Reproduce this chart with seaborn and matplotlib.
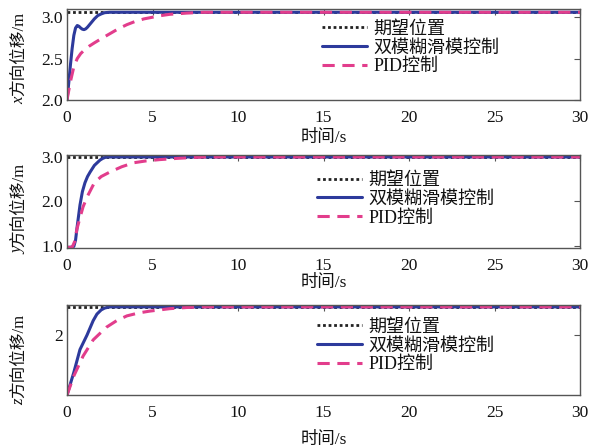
import matplotlib
matplotlib.use("Agg")
import matplotlib.pyplot as plt
import seaborn as sns

# ---- data ----
t_ref = [0, 30]
x_ref = [3.06, 3.06]
y_ref = [3.0, 3.0]
z_ref = [2.47, 2.47]

t_x_smc = [0, 0.1, 0.2, 0.3, 0.4, 0.5, 0.6, 0.7, 0.8, 0.9, 1.0, 1.1, 1.2, 1.4, 1.6, 1.8, 2.0, 2.2, 2.5, 3.0, 30]
x_smc = [2.0, 2.2, 2.42, 2.62, 2.78, 2.87, 2.90, 2.89, 2.87, 2.855, 2.85, 2.86, 2.88, 2.93, 2.98, 3.02, 3.04, 3.055, 3.06, 3.06, 3.06]
t_x_pid = [0, 0.2, 0.4, 0.6, 0.8, 1.0, 1.3, 1.6, 2.0, 2.5, 3.0, 3.5, 4.0, 4.5, 5.0, 5.5, 6.0, 7.0, 8.0, 30]
x_pid = [2.0, 2.22, 2.4, 2.5, 2.56, 2.6, 2.65, 2.69, 2.74, 2.8, 2.86, 2.91, 2.95, 2.98, 3.0, 3.02, 3.035, 3.05, 3.06, 3.06]

t_y_smc = [0, 0.2, 0.4, 0.5, 0.6, 0.76, 0.9, 1.05, 1.2, 1.35, 1.6, 1.93, 2.1, 2.3, 3.0, 30]
y_smc = [0.97, 0.97, 0.99, 1.13, 1.45, 1.92, 2.22, 2.42, 2.56, 2.66, 2.81, 2.93, 2.97, 3.0, 3.0, 3.0]
t_y_pid = [0, 0.3, 0.45, 0.58, 0.75, 0.94, 1.2, 1.6, 2.0, 2.5, 3.2, 3.9, 4.6, 5.4, 6.5, 8.0, 30]
y_pid = [0.97, 0.97, 1.1, 1.38, 1.62, 1.88, 2.12, 2.42, 2.56, 2.66, 2.78, 2.87, 2.91, 2.94, 2.97, 3.0, 3.0]

t_z_smc = [0, 0.4, 0.76, 1.17, 1.53, 1.75, 2.0, 2.2, 2.5, 3.0, 30]
z_smc = [1.0, 1.38, 1.76, 2.0, 2.24, 2.35, 2.42, 2.45, 2.47, 2.47, 2.47]
t_z_pid = [0, 0.4, 0.94, 1.53, 2.3, 2.9, 3.5, 4.2, 4.85, 6.0, 7.0, 8.0, 30]
z_pid = [1.0, 1.32, 1.65, 1.92, 2.13, 2.24, 2.32, 2.37, 2.40, 2.44, 2.46, 2.47, 2.47]

labels = ["期望位置", "双模糊滑模控制", "PID控制"]
ylabel_vars = ["x", "y", "z"]
ylabel_rest = "方向位移/m"
xlabel = "时间/s"
xticks = [0, 5, 10, 15, 20, 25, 30]

sns.set_theme(style="white")
plt.rcParams["font.family"] = ["Liberation Serif", "Noto Sans CJK SC", "DejaVu Sans"]
plt.rcParams["axes.unicode_minus"] = False

fig = plt.figure(figsize=(5.96, 4.48), dpi=100)
positions = [
    [0.1124, 0.777, 0.861, 0.203],
    [0.1124, 0.446, 0.861, 0.2076],
    [0.1124, 0.118, 0.861, 0.201],
]
panels = [
    (x_ref, t_x_smc, x_smc, t_x_pid, x_pid, (2.0, 3.1), [2.0, 2.5, 3.0], ["2.0", "2.5", "3.0"]),
    (y_ref, t_y_smc, y_smc, t_y_pid, y_pid, (0.95, 3.04), [1.0, 2.0, 3.0], ["1.0", "2.0", "3.0"]),
    (z_ref, t_z_smc, z_smc, t_z_pid, z_pid, (1.0, 2.5), [2], ["2"]),
]
legend_anchor = [(0.497, 0.87), (0.487, 0.82), (0.487, 0.85)]
xlabel_pad = [3, 1, 8]
ylabel_center = [0.40, 0.37, 0.33]

blue = "#2d3a9c"
pink = "#e23d8c"
frame = "#555555"

for i, (pos, (ref, ts, vs, tp, vp, ylim, yt, ytl)) in enumerate(zip(positions, panels)):
    ax = fig.add_axes(pos)
    sns.lineplot(x=t_ref, y=ref, ax=ax, color="#222222", linestyle=(0, (1, 1)),
                 linewidth=2.0, label=labels[0])
    sns.lineplot(x=ts, y=vs, ax=ax, color=blue, linewidth=2.2, label=labels[1], sort=False)
    sns.lineplot(x=tp, y=vp, ax=ax, color=pink, linestyle=(0, (4, 2.5)),
                 linewidth=2.2, label=labels[2], sort=False)
    ax.set_xlim(0, 30)
    ax.set_ylim(*ylim)
    ax.set_xticks(xticks)
    ax.set_xticklabels([str(v) for v in xticks])
    ax.set_yticks(yt)
    ax.set_yticklabels(ytl)
    ax.tick_params(direction="in", top=True, right=True, length=4, width=0.8,
                   color=frame, labelsize=12.5, labelcolor="#111111")
    ax.tick_params(axis="x", pad=7)
    ax.tick_params(axis="y", pad=3)
    for sp in ax.spines.values():
        sp.set_color(frame)
        sp.set_linewidth(1.0)
    ax.set_xlabel(xlabel, fontsize=12.5, labelpad=xlabel_pad[i], color="#111111")
    ax.set_ylabel("")
    rest = ax.text(-0.094, ylabel_center[i] + 0.1, ylabel_rest, rotation=90,
                   ha="center", va="center", transform=ax.transAxes,
                   fontsize=12, color="#111111")
    ax.annotate(ylabel_vars[i], xy=(0.5, 0.0), xycoords=rest, ha="center", va="top",
                rotation=90, fontsize=12, style="italic", color="#111111",
                annotation_clip=False)
    leg = ax.legend(loc="upper left", bbox_to_anchor=legend_anchor[i], frameon=False,
                    fontsize=13, handlelength=2.5, labelspacing=0.1,
                    handletextpad=0.35, borderaxespad=0, borderpad=0)
    for txt in leg.get_texts():
        txt.set_color("#111111")

fig.savefig("out.png", dpi=100)
